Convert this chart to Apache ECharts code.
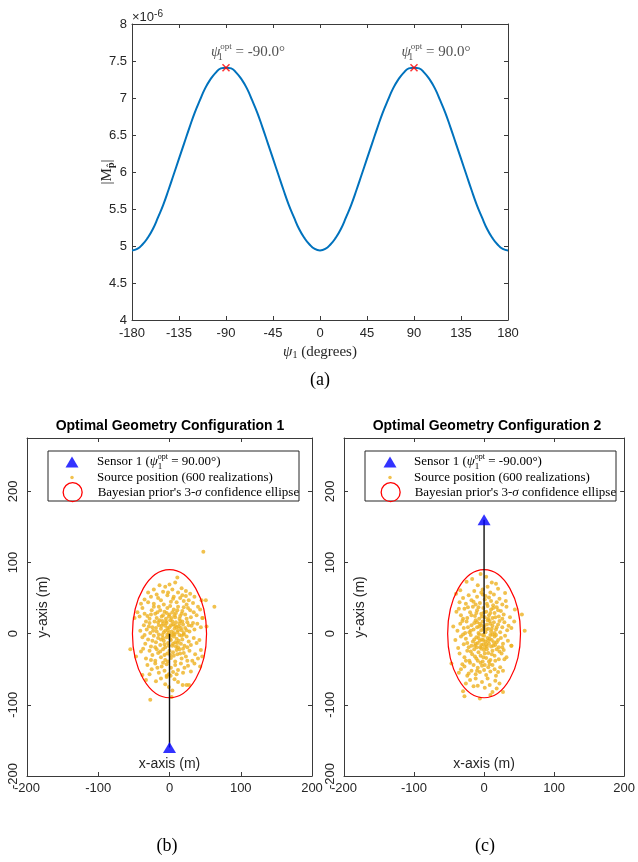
<!DOCTYPE html>
<html><head><meta charset="utf-8">
<script src="https://cdn.jsdelivr.net/npm/echarts@6/dist/echarts.min.js"></script>
<style>html,body{margin:0;padding:0;background:#fff}#c{width:638px;height:862px}</style>
</head><body><div id="c"></div><script>
// ---------- data (a) ----------
const psiDeg = [-180,-175,-170,-165,-160,-155,-150,-145,-140,-135,-130,-125,-120,-115,-110,-105,-100,-95,-90,
-85,-80,-75,-70,-65,-60,-55,-50,-45,-40,-35,-30,-25,-20,-15,-10,-5,0,
5,10,15,20,25,30,35,40,45,50,55,60,65,70,75,80,85,90,
95,100,105,110,115,120,125,130,135,140,145,150,155,160,165,170,175,180];
const detM = [4.94,4.96,5.02,5.11,5.23,5.39,5.56,5.76,5.97,6.18,6.39,6.60,6.80,6.97,7.13,7.25,7.34,7.40,7.41,
7.40,7.34,7.25,7.13,6.97,6.80,6.60,6.39,6.18,5.97,5.76,5.56,5.39,5.23,5.11,5.02,4.96,4.94,
4.96,5.02,5.11,5.23,5.39,5.56,5.76,5.97,6.18,6.39,6.60,6.80,6.97,7.13,7.25,7.34,7.40,7.41,
7.40,7.34,7.25,7.13,6.97,6.80,6.60,6.39,6.18,5.97,5.76,5.56,5.39,5.23,5.11,5.02,4.96,4.94]; // x 1e-6
const optPsi = [-90, 90];
const optDet = [7.41, 7.41];
// ---------- data (b), (c) ----------
const sensorLineA = [[0,0],[0,-160]];
const sensorLineB = [[0,0],[0,160]];
const sensorA = [[0,-160]];
const sensorB = [[0,160]];
const priorEllipse = [[0,0,52,90]]; // center x, center y, semi-axis x, semi-axis y
const sourceA = [
[11,79],[0,69],[-14,68],[-6,66],[8,72],[17,64],[-22,62],[4,62],[23,60],[-30,58],[29,56],[23,53],[12,58],[-9,59],
[-26,52],[-18,55],[-3,54],[6,52],[15,50],[20,46],[-35,48],[-12,47],[2,45],[10,44],[27,47],[33,43],[-22,42],[-8,41],[5,49],[-30,44],[18,54],[-16,50],[24,41],[-2,58],[35,52],[-40,42],
[-45,30],[-38,36],[-31,25],[-25,33],[-20,28],[-15,38],[-11,24],[-7,31],[-3,36],[0,27],[3,22],[6,34],[9,29],[12,38],[15,25],[18,32],[22,27],[26,36],[30,23],[34,30],[38,26],[43,34],[-28,21],[-18,22],[-5,21],[8,23],[20,37],[-13,33],[1,39],[14,21],[-35,28],[29,33],[-22,38],[4,30],[-9,26],[11,33],[-1,24],[24,21],[-42,24],[46,22],[40,38],[-17,30],[7,26],[17,28],[-4,29],[-26,27],[-49,22],
[-41,4],[-36,12],[-32,6],[-28,15],[-24,9],[-21,17],[-18,3],[-15,12],[-12,7],[-10,18],[-8,2],[-6,11],[-4,15],[-2,5],[0,9],[1,19],[3,3],[5,13],[7,7],[9,16],[11,2],[13,10],[15,18],[17,5],[19,13],[22,8],[25,16],[28,3],[31,11],[35,6],[39,14],[44,9],[52,10],[-27,1],[-14,19],[-3,8],[4,17],[12,5],[20,1],[-9,14],[6,1],[-19,8],[27,12],[-33,17],[14,14],[-6,4],[2,12],[-11,11],[10,9],[-16,16],[18,17],[-1,1],[8,11],[-23,4],[24,5],[-5,17],[16,8],[-29,10],[33,15],
[-55,-22],[-38,-5],[-34,-14],[-30,-8],[-26,-18],[-22,-3],[-19,-12],[-16,-6],[-13,-16],[-10,-2],[-8,-10],[-6,-19],[-4,-5],[-2,-13],[0,-3],[2,-9],[4,-17],[6,-4],[8,-12],[10,-7],[12,-19],[14,-2],[16,-14],[18,-8],[21,-17],[24,-4],[27,-11],[30,-16],[34,-6],[38,-13],[42,-9],[-24,-10],[-12,-8],[-3,-1],[5,-14],[13,-10],[20,-1],[-7,-15],[9,-18],[-15,-1],[1,-7],[17,-3],[-20,-19],[25,-19],[-35,-2],[7,-1],[-1,-17],[11,-13],[-9,-6],[3,-2],
[-47,-32],[-40,-25],[-33,-35],[-28,-24],[-24,-30],[-20,-38],[-16,-27],[-12,-33],[-9,-22],[-6,-37],[-3,-28],[0,-24],[2,-34],[5,-26],[8,-39],[11,-29],[14,-22],[17,-35],[20,-27],[23,-32],[28,-24],[32,-38],[36,-29],[44,-23],[46,-32],[-18,-22],[-7,-30],[6,-31],[15,-28],[-26,-37],[25,-38],[-2,-39],[10,-23],[-13,-25],[1,-30],[19,-21],[-37,-21],[40,-35],
[-38,-58],[-31,-44],[-25,-50],[-20,-42],[-15,-55],[-11,-46],[-7,-52],[-4,-43],[-1,-57],[2,-48],[5,-54],[8,-44],[12,-51],[16,-42],[21,-48],[26,-45],[30,-53],[43,-46],[-28,-57],[-4,-59],[1.6,-59],[10,-57],[-17,-48],[19,-55],[35,-42],[-9,-41],
[-33,-65],[-19,-67],[-4,-61],[-6,-71],[-27,-93],[3,-89],[24,-72],[18.5,-72],[27.4,-72],[-12,-63],[7,-64],[12,-68],[-1,-75],[4,-80],
[47.5,115],[63,38],[51,47],[45,47],[46.6,22]
];
const sourceB = [
[-5,84],[-17,77],[-25,73],[-40,56],[-34,61],[11,72],[17,70],[30,57],[3,80],[-9,68],[5,66],[-2,62],[20,63],[-14,60],[9,58],
[-30,50],[-22,54],[-15,45],[-10,52],[-6,43],[-2,55],[1,48],[4,42],[7,51],[10,46],[14,55],[18,44],[22,49],[26,41],[-26,42],[-18,47],[-35,44],[13,40],[-4,58],[31,46],[2,53],[-12,41],
[-39.5,31],[-33,26],[-28,35],[-24,22],[-20,30],[-16,38],[-13,25],[-10,33],[-7,21],[-4,28],[-1,36],[1,23],[3,31],[5,39],[7,26],[10,34],[12,22],[15,29],[18,37],[21,24],[24,32],[28,27],[32,38],[37,23],[54,27],[-30,21],[-8,37],[6,21],[16,23],[-18,26],[0,30],[9,29],[-3,24],[20,33],[44,34],[-23,37],[13,36],[-11,29],[26,21],[-36,35],
[-44,10],[-38,4],[-34,14],[-29,8],[-25,17],[-21,2],[-18,12],[-15,6],[-12,19],[-10,9],[-8,1],[-6,14],[-4,5],[-2,17],[0,10],[2,2],[4,13],[6,7],[8,18],[10,3],[12,11],[14,16],[17,6],[20,13],[23,2],[26,9],[29,16],[33,5],[43,17],[35,11],[58,4],[-27,1],[-14,15],[-1,7],[5,19],[15,1],[-7,10],[9,14],[-19,4],[22,18],[-31,18],[3,6],[-10,16],[18,9],[-4,12],[11,7],[39,8],[-23,9],
[-37,-20],[-41,-9],[-33,-4],[-29,-15],[-26,-7],[-22,-19],[-19,-2],[-16,-11],[-13,-17],[-11,-5],[-9,-13],[-7,-1],[-5,-19],[-3,-8],[-1,-15],[0,-3],[2,-11],[4,-18],[5,-6],[7,-14],[9,-2],[11,-9],[13,-17],[15,-4],[18,-12],[21,-19],[24,-6],[27,-14],[30,-3],[34,-10],[39,-17],[-24,-13],[-14,-8],[-6,-10],[1,-19],[8,-7],[16,-16],[-18,-17],[-2,-2],[12,-1],[20,-9],[-10,-19],[3,-15],[-30,-1],[6,-10],[-8,-6],[14,-12],[-4,-16],[10,-18],[26,-19],[-1,-9],[-12,-14],[17,-2],
[-46.6,-42],[-31,-43],[-35,-28],[-28,-33],[-24,-24],[-21,-38],[-17,-29],[-14,-22],[-11,-35],[-8,-26],[-5,-31],[-2,-39],[0,-23],[3,-34],[6,-27],[9,-37],[12,-24],[15,-31],[18,-22],[21,-36],[25,-28],[32,-33],[29,-36],[39,-17],[-19,-25],[-4,-21],[7,-39],[11,-29],[-13,-32],[1,-28],[22,-25],[-9,-38],[16,-38],[-26,-38],[4,-22],[-1,-33],[28,-23],
[-24,-59],[-22,-56],[-33,-50],[-28,-46],[-18,-52],[-15,-44],[-12,-57],[-9,-48],[-6,-54],[-3,-45],[0,-51],[3,-58],[6,-47],[9,-53],[12,-44],[15,-50],[20,-54],[17,-59],[23,-47],[-20,-41],[-5,-41],[8,-43],[27,-52],[-36,-55],[1,-44],[-10,-52],
[-30,-81],[-28,-88],[-6,-91],[9,-86],[12,-82],[27,-82],[-9,-73],[-15,-74],[18,-77],[16,-66],[-20,-65],[-3,-68],[5,-63],[-12,-63],[22,-70],[1,-76],[-26,-70],[8,-72]
];
const nameSensorA = 'Sensor 1 (ψ1opt = 90.00°)';
const nameSensorB = 'Sensor 1 (ψ1opt = -90.00°)';
const nameSource = 'Source position (600 realizations)';
const nameEllipse = "Bayesian prior's 3-σ confidence ellipse";

// ---------- styles ----------
const AX = '#3a3a3a';
const TXT = '#262626';
const SERIF = 'Liberation Serif';
const SANS = 'Liberation Sans';
const ORANGE = '#EDB120';

function mkAxis(gridIndex, position, min, max, interval, labelOpts, extra) {
  return Object.assign({
    type: 'value', gridIndex: gridIndex, position: position, min: min, max: max, interval: interval,
    axisLine: {show: true, onZero: false, lineStyle: {color: AX, width: 1}},
    axisTick: {show: true, inside: true, length: 4, lineStyle: {color: AX, width: 1}},
    splitLine: {show: false},
    axisLabel: Object.assign({show: false, color: TXT, fontFamily: SANS, fontSize: 13}, labelOpts || {})
  }, extra || {});
}

const legendRich = {
  t: {fontFamily: SERIF, fontSize: 13, color: '#000', lineHeight: 18},
  i: {fontFamily: SERIF, fontSize: 13, fontStyle: 'italic', color: '#000', lineHeight: 18},
  s: {fontFamily: SERIF, fontSize: 9, color: '#000', width: 0, lineHeight: 11, verticalAlign: 'bottom'},
  p: {fontFamily: SERIF, fontSize: 8, color: '#000', lineHeight: 10, verticalAlign: 'top'}
};
const legendText = {};
legendText[nameSensorA] = '{t|Sensor 1 (}{i|ψ}{s|1}{p|opt}{t| = 90.00°)}';
legendText[nameSensorB] = '{t|Sensor 1 (}{i|ψ}{s|1}{p|opt}{t| = -90.00°)}';
legendText[nameSource] = '{t|Source position (600 realizations)}';
legendText[nameEllipse] = "{t|Bayesian prior's 3-}{i|σ}{t| confidence ellipse}";

function mkLegend(name, icon, w, h, cx, cy, textX, itemStyle) {
  const left = cx - w / 2;
  const pad = textX - (left + w + 5);
  return {
    show: true, orient: 'horizontal', left: left, top: cy - Math.max(h, 18) / 2, padding: 0,
    itemWidth: w, itemHeight: h, itemGap: 0, icon: icon, selectedMode: false,
    data: [name], itemStyle: itemStyle,
    formatter: function (n) { return legendText[n]; },
    textStyle: {padding: [0, 0, 0, pad], rich: legendRich}
  };
}

const annRich = {
  t: {fontFamily: SERIF, fontSize: 15, color: TXT, lineHeight: 20},
  i: {fontFamily: SERIF, fontSize: 15, fontStyle: 'italic', color: TXT, lineHeight: 20},
  s: {fontFamily: SERIF, fontSize: 10, color: TXT, width: 0, lineHeight: 12, verticalAlign: 'bottom'},
  p: {fontFamily: SERIF, fontSize: 9, color: TXT, lineHeight: 11, verticalAlign: 'top'}
};

const chart = echarts.init(document.getElementById('c'), null, {renderer: 'canvas'});

const ellipseSeries = function (xi, yi) {
  return {
    type: 'custom', name: nameEllipse, xAxisIndex: xi, yAxisIndex: yi, z: 3,
    itemStyle: {color: 'red'},
    data: priorEllipse,
    renderItem: function (params, api) {
      const c = api.coord([api.value(0), api.value(1)]);
      const s = api.size([api.value(2), api.value(3)]);
      return {type: 'ellipse', shape: {cx: c[0], cy: c[1], rx: s[0], ry: s[1]},
        style: {fill: 'none', stroke: 'red', lineWidth: 1.2}};
    }
  };
};

const option = {
  backgroundColor: '#fff',
  animation: false,
  title: [
    {text: 'Optimal Geometry Configuration 1', left: 170, top: 419, textAlign: 'center', padding: 0,
      textStyle: {fontFamily: SANS, fontSize: 14, fontWeight: 'bold', color: '#000'}},
    {text: 'Optimal Geometry Configuration 2', left: 487, top: 419, textAlign: 'center', padding: 0,
      textStyle: {fontFamily: SANS, fontSize: 14, fontWeight: 'bold', color: '#000'}},
    {text: '(a)', left: 320, top: 371, textAlign: 'center', padding: 0,
      textStyle: {fontFamily: SERIF, fontSize: 18, fontWeight: 'normal', color: '#000'}},
    {text: '(b)', left: 167, top: 837, textAlign: 'center', padding: 0,
      textStyle: {fontFamily: SERIF, fontSize: 18, fontWeight: 'normal', color: '#000'}},
    {text: '(c)', left: 485, top: 837, textAlign: 'center', padding: 0,
      textStyle: {fontFamily: SERIF, fontSize: 18, fontWeight: 'normal', color: '#000'}},
    // axis exponent of (a)
    {text: '{a|×10}{b|-6}', left: 132, top: 9, padding: 0,
      textStyle: {fontWeight: 'normal', rich: {
        a: {fontFamily: SANS, fontSize: 13, fontWeight: 'normal', color: TXT, lineHeight: 16},
        b: {fontFamily: SANS, fontSize: 10, fontWeight: 'normal', color: TXT, lineHeight: 8, verticalAlign: 'top'}
      }}}
  ],
  grid: [
    {left: 132, top: 24, width: 376, height: 296},
    {left: 27, top: 438, width: 285, height: 338},
    {left: 344, top: 438, width: 285, height: 338}
  ],
  xAxis: [
    mkAxis(0, 'bottom', -180, 180, 45, {show: true, margin: 7}, {
      name: '{i|ψ}{s|1}{t| (degrees)}', nameLocation: 'middle', nameGap: 25, nameMoveOverlap: false,
      nameTextStyle: {rich: {
        t: {fontFamily: SERIF, fontSize: 15, color: TXT},
        i: {fontFamily: SERIF, fontSize: 15, fontStyle: 'italic', color: TXT},
        s: {fontFamily: SERIF, fontSize: 10, color: TXT, verticalAlign: 'bottom', lineHeight: 12}
      }}
    }),
    mkAxis(0, 'top', -180, 180, 45),
    mkAxis(1, 'bottom', -200, 200, 100, {show: true, margin: 6}, {
      name: 'x-axis (m)', nameLocation: 'middle', nameGap: -19, nameMoveOverlap: false,
      nameTextStyle: {fontFamily: SANS, fontSize: 14, color: TXT}
    }),
    mkAxis(1, 'top', -200, 200, 100),
    mkAxis(2, 'bottom', -200, 200, 100, {show: true, margin: 6}, {
      name: 'x-axis (m)', nameLocation: 'middle', nameGap: -19, nameMoveOverlap: false,
      nameTextStyle: {fontFamily: SANS, fontSize: 14, color: TXT}
    }),
    mkAxis(2, 'top', -200, 200, 100)
  ],
  yAxis: [
    mkAxis(0, 'left', 4, 8, 0.5, {show: true, margin: 5}, {
      name: '{t||M}{s|p\u0302}{t||}', nameLocation: 'middle', nameGap: 16, nameRotate: 90, nameMoveOverlap: false,
      nameTextStyle: {rich: {
        t: {fontFamily: SERIF, fontSize: 15, color: TXT, lineHeight: 18},
        s: {fontFamily: SERIF, fontSize: 10, fontWeight: 'bold', color: TXT, lineHeight: 12, verticalAlign: 'bottom'}
      }}
    }),
    mkAxis(0, 'right', 4, 8, 0.5),
    mkAxis(1, 'left', -200, 275, 100, {show: true, rotate: 90, margin: 7, showMaxLabel: false}, {
      name: 'y-axis (m)', nameLocation: 'middle', nameGap: -23, nameMoveOverlap: false,
      nameTextStyle: {fontFamily: SANS, fontSize: 14, color: TXT}
    }),
    mkAxis(1, 'right', -200, 275, 100),
    mkAxis(2, 'left', -200, 275, 100, {show: true, rotate: 90, margin: 7, showMaxLabel: false}, {
      name: 'y-axis (m)', nameLocation: 'middle', nameGap: -23, nameMoveOverlap: false,
      nameTextStyle: {fontFamily: SANS, fontSize: 14, color: TXT}
    }),
    mkAxis(2, 'right', -200, 275, 100)
  ],
  legend: [
    mkLegend(nameSensorA, 'triangle', 13, 11, 72, 462, 97, {color: '#0000FF'}),
    mkLegend(nameSource, 'circle', 3.5, 3.5, 72, 480, 97, {color: ORANGE}),
    mkLegend(nameEllipse, 'circle', 19, 19, 72, 491.5, 97, {color: 'rgba(0,0,0,0)', borderColor: 'red', borderWidth: 1.3}),
    mkLegend(nameSensorB, 'triangle', 13, 11, 390, 462, 414, {color: '#0000FF'}),
    mkLegend(nameSource, 'circle', 3.5, 3.5, 390, 480, 414, {color: ORANGE}),
    mkLegend(nameEllipse, 'circle', 19, 19, 390, 491.5, 414, {color: 'rgba(0,0,0,0)', borderColor: 'red', borderWidth: 1.3})
  ],
  graphic: [
    {type: 'rect', z: 3, shape: {x: 48, y: 451, width: 251, height: 50}, style: {fill: '#fff', stroke: TXT, lineWidth: 1}},
    {type: 'rect', z: 3, shape: {x: 365, y: 451, width: 251, height: 50}, style: {fill: '#fff', stroke: TXT, lineWidth: 1}}
  ],
  series: [
    {type: 'line', name: '|M|', xAxisIndex: 0, yAxisIndex: 0, smooth: true, showSymbol: false,
      lineStyle: {color: '#0072BD', width: 2}, itemStyle: {color: '#0072BD'},
      data: psiDeg.map(function (p, i) { return [p, detM[i]]; })},
    {type: 'scatter', name: 'optimum', xAxisIndex: 0, yAxisIndex: 0, z: 5,
      symbol: 'path://M0,0L10,10M10,0L0,10', symbolSize: 7,
      itemStyle: {color: 'red', borderColor: 'red', borderWidth: 1.5},
      label: {show: true, position: 'top', distance: 1, offset: [22, 0], rich: annRich,
        formatter: function (p) { return '{i|ψ}{s|1}{p|opt}{t| = ' + p.value[0].toFixed(1) + '°}'; }},
      data: optPsi.map(function (p, i) { return [p, optDet[i]]; })},
    // (b)
    {type: 'scatter', name: nameSource, xAxisIndex: 2, yAxisIndex: 2, symbolSize: 4, z: 2,
      itemStyle: {color: ORANGE}, data: sourceA},
    ellipseSeries(2, 2),
    {type: 'line', name: 'lineA', xAxisIndex: 2, yAxisIndex: 2, z: 4, showSymbol: false, symbol: 'none',
      lineStyle: {color: '#111', width: 1.4}, data: sensorLineA},
    {type: 'scatter', name: nameSensorA, xAxisIndex: 2, yAxisIndex: 2, z: 5, symbol: 'triangle', symbolSize: [13, 11],
      itemStyle: {color: '#0000FF'}, data: sensorA},
    // (c)
    {type: 'scatter', name: nameSource, xAxisIndex: 4, yAxisIndex: 4, symbolSize: 4, z: 2,
      itemStyle: {color: ORANGE}, data: sourceB},
    ellipseSeries(4, 4),
    {type: 'line', name: 'lineB', xAxisIndex: 4, yAxisIndex: 4, z: 4, showSymbol: false, symbol: 'none',
      lineStyle: {color: '#111', width: 1.4}, data: sensorLineB},
    {type: 'scatter', name: nameSensorB, xAxisIndex: 4, yAxisIndex: 4, z: 5, symbol: 'triangle', symbolSize: [13, 11],
      itemStyle: {color: '#0000FF'}, data: sensorB}
  ]
};
chart.setOption(option);
</script></body></html>
